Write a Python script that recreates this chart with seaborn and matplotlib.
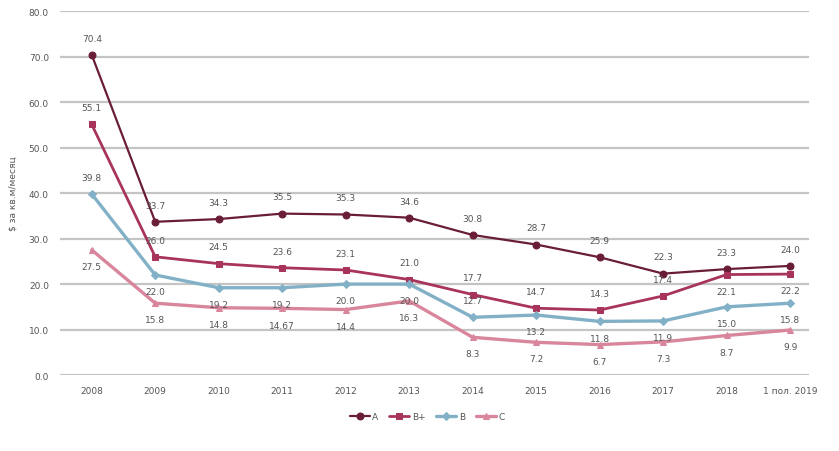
import pandas as pd
import matplotlib.pyplot as plt
import seaborn as sns

# Data
years = ['2008', '2009', '2010', '2011', '2012', '2013', '2014', '2015',
         '2016', '2017', '2018', '1 пол. 2019']
class_a = [70.4, 33.7, 34.3, 35.5, 35.3, 34.6, 30.8, 28.7, 25.9, 22.3, 23.3, 24.0]
class_bplus = [55.1, 26.0, 24.5, 23.6, 23.1, 21.0, 17.7, 14.7, 14.3, 17.4, 22.1, 22.2]
class_b = [39.8, 22.0, 19.2, 19.2, 20.0, 20.0, 12.7, 13.2, 11.8, 11.9, 15.0, 15.8]
class_c = [27.5, 15.8, 14.8, 14.67, 14.4, 16.3, 8.3, 7.2, 6.7, 7.3, 8.7, 9.9]
label_text_c = ['27.5', '15.8', '14.8', '14.67', '14.4', '16.3', '8.3', '7.2',
                '6.7', '7.3', '8.7', '9.9']

series = ['A', 'B+', 'B', 'C']
values = [class_a, class_bplus, class_b, class_c]

frames = []
for name, vals in zip(series, values):
    frames.append(pd.DataFrame({'year': years, 'value': vals, 'cls': name}))
df = pd.concat(frames, ignore_index=True)

palette = {'A': '#6a1d38', 'B+': '#a8345c', 'B': '#82b1c7', 'C': '#d9869c'}
markers = {'A': 'o', 'B+': 's', 'B': 'D', 'C': '^'}
msizes = {'A': 5, 'B+': 5, 'B': 4, 'C': 5}
widths = {'A': 1.6, 'B+': 2.0, 'B': 2.4, 'C': 2.4}

# label placement: +1 above, -1 below
place = {
    'A': [1] * 12,
    'B+': [1, 1, 1, 1, 1, 1, 1, 1, 1, 1, -1, -1],
    'B': [1, -1, -1, -1, -1, -1, 1, -1, -1, -1, -1, -1],
    'C': [-1] * 12,
}

sns.set_style('white')
plt.rcParams['font.family'] = ['DejaVu Sans']
fig = plt.figure(figsize=(8.39, 4.52), dpi=100)
ax = fig.add_axes([0.0715, 0.168, 0.893, 0.805])

for name in series:
    sub = df[df['cls'] == name]
    sns.lineplot(data=sub, x='year', y='value', color=palette[name],
                 marker=markers[name], markersize=msizes[name],
                 markeredgecolor=palette[name], linewidth=widths[name],
                 label=name, ax=ax, sort=False)

text_color = '#555555'
for name, vals in zip(series, values):
    for i, v in enumerate(vals):
        txt = label_text_c[i] if name == 'C' else f'{v:.1f}'
        dy = 12 if place[name][i] > 0 else -12
        ax.annotate(txt, (i, v), textcoords='offset points', xytext=(0, dy),
                    ha='center', va='center', fontsize=6.5, color=text_color)

ax.set_ylim(0, 80)
ax.set_xlim(-0.5, 11.3)
ax.set_yticks(range(0, 81, 10))
ax.set_yticklabels([f'{t:.1f}' for t in range(0, 81, 10)])
ax.yaxis.grid(True, color='#c4c4c4', linewidth=1.6)
ax.set_axisbelow(True)
for s in ax.spines.values():
    s.set_visible(False)
ax.tick_params(axis='both', length=0, labelsize=6.5, labelcolor=text_color, pad=8)
ax.set_xlabel('')
ax.set_ylabel('$ за кв.м/месяц', fontsize=6.5, color=text_color, labelpad=8)

ax.legend(loc='upper center', bbox_to_anchor=(0.49, -0.08), ncol=4, frameon=False,
          fontsize=6.5, handlelength=2.2, columnspacing=1.2, handletextpad=0.3,
          labelcolor=text_color)

fig.savefig('out.png', dpi=100)
